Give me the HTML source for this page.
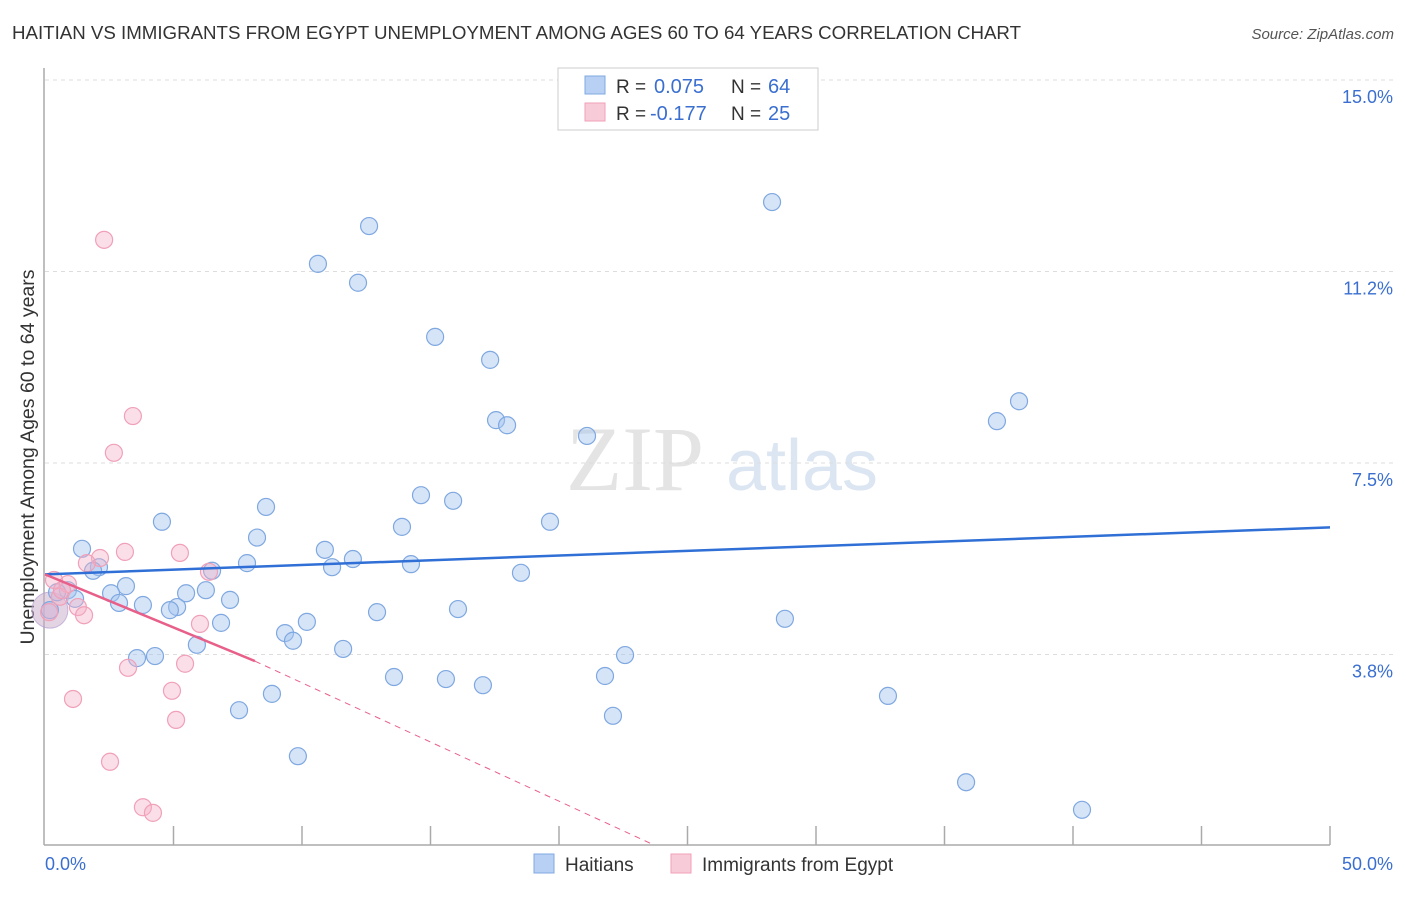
<!DOCTYPE html>
<html><head><meta charset="utf-8"><style>
body{margin:0;background:#fff;font-family:"Liberation Sans",sans-serif;}
</style></head><body>
<svg id="chart" width="1406" height="892" xmlns="http://www.w3.org/2000/svg" font-family="Liberation Sans, sans-serif">
<text x="12" y="39" font-size="18.7" fill="#333">HAITIAN VS IMMIGRANTS FROM EGYPT UNEMPLOYMENT AMONG AGES 60 TO 64 YEARS CORRELATION CHART</text>
<text x="1394" y="39" font-size="15" fill="#555" text-anchor="end" font-style="italic">Source: ZipAtlas.com</text>
<text transform="translate(34,457) rotate(-90)" font-size="19.5" fill="#333" text-anchor="middle">Unemployment Among Ages 60 to 64 years</text>
<g>
<text x="635" y="490" font-size="92" fill="#e4e4e4" font-family="Liberation Serif, serif" text-anchor="middle">ZIP</text>
<text x="802" y="490" font-size="72" fill="#dce6f3" text-anchor="middle">atlas</text>
</g>
<g id="grid"></g>
<g id="axes"></g>
<g id="pts"></g>
<g id="lines"></g>
<g>
<rect x="558" y="68" width="260" height="62" fill="#fff" stroke="#ccc"/>
<rect x="585" y="76" width="20" height="18" fill="#b8d0f4" stroke="#7fa8e0"/>
<text x="616" y="93" font-size="19" fill="#333">R = </text><text x="654" y="93" font-size="20" fill="#3a6fd0">0.075</text>
<text x="731" y="93" font-size="19" fill="#333">N = </text><text x="768" y="93" font-size="20" fill="#3a6fd0">64</text>
<rect x="585" y="103" width="20" height="18" fill="#f8cbd8" stroke="#f0a0b8"/>
<text x="616" y="120" font-size="19" fill="#333">R = </text><text x="650" y="120" font-size="20" fill="#3a6fd0">-0.177</text>
<text x="731" y="120" font-size="19" fill="#333">N = </text><text x="768" y="120" font-size="20" fill="#3a6fd0">25</text>
</g>
<g>
<rect x="534" y="854" width="20" height="19" fill="#b8d0f4" stroke="#7fa8e0"/>
<text x="565" y="871" font-size="19" fill="#333">Haitians</text>
<rect x="671" y="854" width="20" height="19" fill="#f8cbd8" stroke="#f0a0b8"/>
<text x="702" y="871" font-size="19" fill="#333">Immigrants from Egypt</text>
</g>
</svg>
<script>
const yTicks=[15.0,11.25,7.5,3.75];
const yTickLabels=["15.0%","11.2%","7.5%","3.8%"];
const xTickLabels=["0.0%","50.0%"];
const blueX=[28.29,12.61,10.62,12.18,15.18,17.32,37.90,37.04,17.55,17.98,21.09,14.63,15.88,8.60,4.55,19.65,13.89,8.25,1.44,10.89,11.98,7.86,14.24,11.17,2.10,1.87,6.50,18.52,3.15,5.49,6.26,2.57,0.89,0.47,1.17,3.81,2.88,5.14,4.86,7.20,12.92,16.07,6.85,10.19,28.79,9.34,9.65,5.91,11.60,4.28,3.58,22.57,13.58,15.60,21.79,17.04,8.83,32.80,7.55,22.10,9.84,35.84,40.35,0.19];
const blueY=[12.61,12.14,11.40,11.03,9.97,9.52,8.71,8.32,8.34,8.24,8.03,6.87,6.76,6.64,6.35,6.35,6.25,6.04,5.82,5.80,5.62,5.54,5.52,5.46,5.46,5.39,5.39,5.35,5.09,4.95,5.01,4.95,5.01,4.97,4.84,4.72,4.76,4.68,4.62,4.82,4.58,4.64,4.37,4.39,4.45,4.17,4.02,3.94,3.86,3.72,3.68,3.74,3.31,3.27,3.33,3.15,2.98,2.94,2.66,2.55,1.76,1.25,0.71,4.62];
const pinkX=[2.30,3.42,2.68,3.11,5.25,2.14,1.63,6.38,0.35,0.89,0.58,1.28,1.52,6.03,0.16,3.23,5.45,1.09,4.94,5.10,2.53,3.81,4.20,0.66];
const pinkY=[11.87,8.42,7.70,5.76,5.74,5.64,5.54,5.37,5.21,5.13,4.88,4.68,4.52,4.35,4.58,3.49,3.57,2.88,3.04,2.47,1.65,0.76,0.65,5.01];
const blueTrend=[5.32,6.24];
const pinkTrend=[5.32,-0.208];
const NS="http://www.w3.org/2000/svg";
const X=v=>45+v/50*1285;
const Y=v=>80+(15-v)*51.07;
function mk(t,a,p){const e=document.createElementNS(NS,t);for(const k in a)e.setAttribute(k,a[k]);p.appendChild(e);return e;}
const grid=document.getElementById('grid'),axes=document.getElementById('axes'),pts=document.getElementById('pts'),lines=document.getElementById('lines');
yTicks.forEach((t,i)=>{
 const l=mk('line',{x1:45,x2:1394,y1:Y(t),y2:Y(t),stroke:'#ddd','stroke-dasharray':'4,4'},grid);
 
 
 const tx=mk('text',{x:1393,y:Y(t)+23,'font-size':18,fill:'#3a6fd0','text-anchor':'end'},axes);
 tx.textContent=yTickLabels[i];
 
 
});
mk('line',{x1:44,x2:44,y1:68,y2:845,stroke:'#aaa','stroke-width':1.5},axes);
mk('line',{x1:44,x2:1330,y1:845,y2:845,stroke:'#aaa','stroke-width':1.5},axes);
for(let i=1;i<=10;i++){const x=X(i*5);const t=mk('line',{x1:x,x2:x,y1:826,y2:845,stroke:'#aaa','stroke-width':1.5},axes);}
const xl0=mk('text',{x:45,y:870,'font-size':18,fill:'#3a6fd0'},axes);xl0.textContent=xTickLabels[0];


const xl1=mk('text',{x:1393,y:870,'font-size':18,fill:'#3a6fd0','text-anchor':'end'},axes);xl1.textContent=xTickLabels[1];


mk('circle',{cx:X(0.19),cy:Y(4.62),r:18,fill:'rgba(200,170,200,0.5)',stroke:'rgba(180,160,210,0.7)'},pts);
blueX.forEach((v,i)=>{const c=mk('circle',{cx:X(v),cy:Y(blueY[i]),r:8.5,fill:'rgba(165,195,240,0.45)',stroke:'#7fa8e0','stroke-width':1.2},pts);
 
 });
pinkX.forEach((v,i)=>{const c=mk('circle',{cx:X(v),cy:Y(pinkY[i]),r:8.5,fill:'rgba(245,175,198,0.4)',stroke:'#f0a0b8','stroke-width':1.2},pts);
 
 });
const bl=mk('line',{x1:X(0),y1:Y(blueTrend[0]),x2:X(50),y2:Y(blueTrend[1]),stroke:'#2f6fd6','stroke-width':2.5},lines);


const pe=8.17,pz=23.7;
const pl=mk('line',{x1:X(0),y1:Y(pinkTrend[0]),x2:X(pe),y2:Y(pinkTrend[0]+pinkTrend[1]*pe),stroke:'#e8608a','stroke-width':2.5},lines);


const pd=mk('line',{x1:X(pe),y1:Y(pinkTrend[0]+pinkTrend[1]*pe),x2:X(pz),y2:845,stroke:'#e8608a','stroke-width':1,'stroke-dasharray':'6,5'},lines);


</script>
</body></html>
